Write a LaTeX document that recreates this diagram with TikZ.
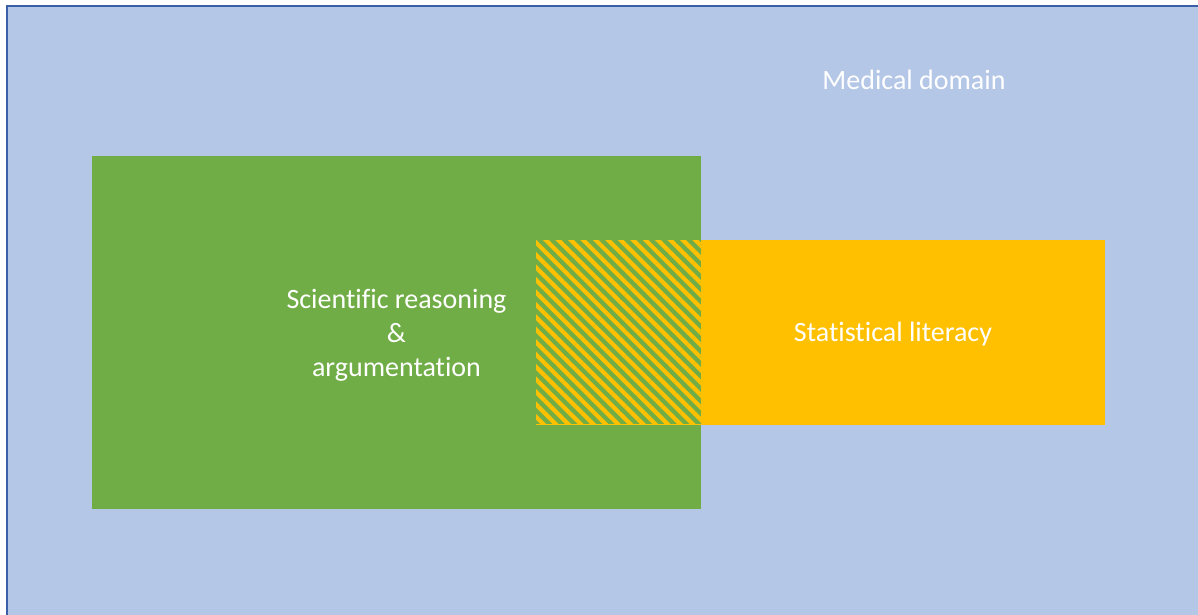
\documentclass[tikz,border=0pt]{standalone}
\usepackage{fontspec}
\setmainfont[Ligatures=CommonOff]{Carlito}
\usetikzlibrary{patterns.meta}
\definecolor{bgblue}{HTML}{B4C7E7}
\definecolor{edgeblue}{HTML}{3A5FA6}
\definecolor{mgreen}{HTML}{70AD47}
\definecolor{morange}{HTML}{FFC000}
\tikzset{
  box/.style={anchor=north west, inner sep=0pt, outer sep=0pt},
  lbl/.style={text=white, font=\fontsize{28}{34}\selectfont, align=center, inner sep=0pt}
}
\begin{document}
\begin{tikzpicture}[x=1pt,y=-1pt]
\useasboundingbox (0,0) rectangle (1198,615);
\fill[bgblue] (6.5,6.5) rectangle (1198,615);
\draw[edgeblue, line width=2pt] (6.5,615) -- (6.5,6.5) -- (1198,6.5);
\node[box, fill=mgreen, minimum width=609pt, minimum height=353pt] (sci) at (92,156) {};
\node[box, fill=morange, minimum width=404pt, minimum height=185pt] (stat) at (701,240) {};
\node[box, fill=mgreen, minimum width=165pt, minimum height=184pt,
  postaction={pattern={Lines[angle=-45,distance=8.8pt,line width=4.2pt]}, pattern color=morange}] (overlap) at (536,240) {};
\draw[morange, line width=1pt] (overlap.south west) -- (overlap.south east);
\node[lbl] (scitext) at (396.5,335) {Scientific reasoning\\\&\\argumentation};
\node[lbl] (stattext) at (893,334.5) {Statistical literacy};
\node[lbl] (medtext) at (914,79.5) {Medical domain};
\end{tikzpicture}
\end{document}
